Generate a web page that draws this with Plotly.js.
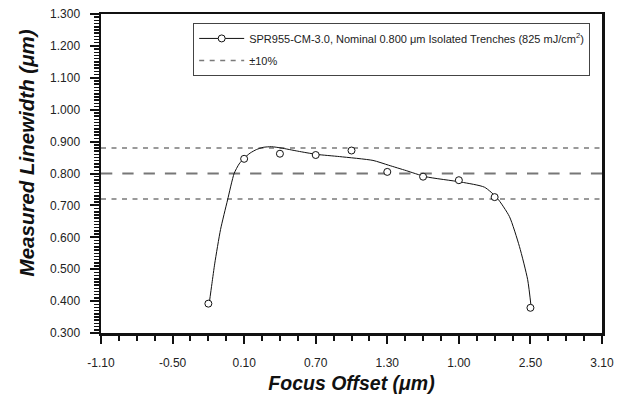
<!DOCTYPE html>
<html>
<head>
<meta charset="utf-8">
<script src="https://cdn.plot.ly/plotly-3.0.1.min.js"></script>
<style>html,body{margin:0;padding:0;background:#fff;}#chart{width:623px;height:404px;}</style>
</head>
<body>
<div id="chart"></div>
<script>
// Measured points
var focusX = [-0.2, 0.1, 0.4, 0.7, 1.0, 1.3, 1.6, 1.9, 2.2, 2.5];
var linewidthY = [0.392, 0.846, 0.862, 0.858, 0.872, 0.805, 0.790, 0.779, 0.726, 0.379];
// Fitted curve
var fitX = [-0.193, -0.170, -0.146, -0.098, -0.039, 0.016, 0.058, 0.100, 0.150, 0.203, 0.260, 0.329, 0.41, 0.55, 0.706, 0.90, 1.18, 1.311, 1.459, 1.621, 1.92, 2.115, 2.221, 2.324, 2.408, 2.477, 2.507];
var fitY = [0.392, 0.455, 0.519, 0.624, 0.717, 0.800, 0.830, 0.848, 0.864, 0.875, 0.882, 0.884, 0.880, 0.870, 0.860, 0.853, 0.841, 0.826, 0.809, 0.790, 0.773, 0.757, 0.723, 0.665, 0.571, 0.467, 0.378];
// Nominal and ±10% limits
var nominal = 0.800;
var lowerLimit = 0.720;
var upperLimit = 0.880;
var xRange = [-1.10, 3.10];
// X tick labels (as printed on the chart)
var xTickVals = [-1.10, -0.50, 0.10, 0.70, 1.30, 1.90, 2.50, 3.10];
var xTickText = ["-1.10", "-0.50", "0.10", "0.70", "1.30", "1.00", "2.50", "3.10"];

var seriesName = "SPR955-CM-3.0, Nominal 0.800 μm Isolated Trenches (825 mJ/cm<sup>2</sup>)";
var yTitle = "<b><i>Measured Linewidth (μm)</i></b>";
var xTitle = "<b><i>Focus Offset (μm)</i></b>";

// marker trace with gaps so the legend shows line+marker but no segments are drawn
var gx = [], gy = [];
for (var i = 0; i < focusX.length; i++) { gx.push(focusX[i]); gy.push(linewidthY[i]); gx.push(focusX[i]); gy.push(null); }

var font = "'Liberation Sans', Arial, Helvetica, sans-serif";

var traces = [
  {x: xRange, y: [upperLimit, upperLimit], mode: 'lines', line: {color: '#7a7a7a', width: 1.6, dash: '5px,5.5px'}, showlegend: false, hoverinfo: 'skip'},
  {x: xRange, y: [nominal, nominal], mode: 'lines', line: {color: '#777', width: 2, dash: '11.3px,10px'}, showlegend: false, hoverinfo: 'skip'},
  {x: xRange, y: [lowerLimit, lowerLimit], mode: 'lines', line: {color: '#7a7a7a', width: 1.6, dash: '5px,5.5px'}, name: '±10%', showlegend: true, legendrank: 2, legendgroup: 'b'},
  {x: fitX, y: fitY, mode: 'lines', line: {color: '#111', width: 1, shape: 'spline', smoothing: 0.6}, showlegend: false, hoverinfo: 'skip'},
  {x: gx, y: gy, mode: 'lines+markers', connectgaps: false, name: seriesName, legendrank: 1, legendgroup: 'a',
   line: {color: '#111', width: 1},
   marker: {symbol: 'circle', size: 7, color: '#fff', line: {color: '#111', width: 1}}}
];

var layout = {
  width: 623, height: 404,
  margin: {l: 101, r: 21, t: 14, b: 71},
  paper_bgcolor: '#fff', plot_bgcolor: '#fff',
  font: {family: font, color: '#222', size: 12},
  showlegend: true,
  legend: {x: 0.184, y: 0.972, xanchor: 'left', yanchor: 'top', bgcolor: '#fff', bordercolor: '#444', borderwidth: 1,
           font: {family: font, size: 11, color: '#222'}, itemwidth: 45, traceorder: 'grouped', tracegroupgap: 3},
  xaxis: {
    range: xRange, tickmode: 'array', tickvals: xTickVals, ticktext: xTickText,
    showgrid: false, zeroline: false, showline: true, mirror: true, linecolor: '#111', linewidth: 2.5,
    ticks: 'outside', ticklen: 8, tickwidth: 2, tickcolor: '#111', ticklabelstandoff: 9,
    minor: {dtick: 0.15, tick0: -1.10, ticks: 'outside', ticklen: 5, tickwidth: 2, tickcolor: '#111', showgrid: false},
    tickfont: {family: font, size: 12, color: '#222'},
    title: {text: xTitle, font: {family: font, size: 19.5, color: '#111'}, standoff: 8}
  },
  yaxis: {
    range: [0.3, 1.3], tickmode: 'linear', tick0: 0.3, dtick: 0.1, tickformat: '.3f',
    showgrid: false, zeroline: false, showline: true, mirror: true, linecolor: '#111', linewidth: 2.5,
    ticks: 'outside', ticklen: 9, tickwidth: 2, tickcolor: '#111', ticklabelstandoff: 7,
    minor: {dtick: 0.01, tick0: 0.3, ticks: 'outside', ticklen: 5, tickwidth: 1.5, tickcolor: '#111', showgrid: false},
    tickfont: {family: font, size: 12, color: '#222'}
  },
  annotations: [
    {text: yTitle, xref: 'paper', yref: 'paper', x: -0.1497, y: 0.563, xanchor: 'center', yanchor: 'middle',
     textangle: -90, showarrow: false, font: {family: font, size: 20.5, color: '#111'}}
  ]
};

Plotly.newPlot('chart', traces, layout, {displayModeBar: false, staticPlot: true});
</script>
</body>
</html>
